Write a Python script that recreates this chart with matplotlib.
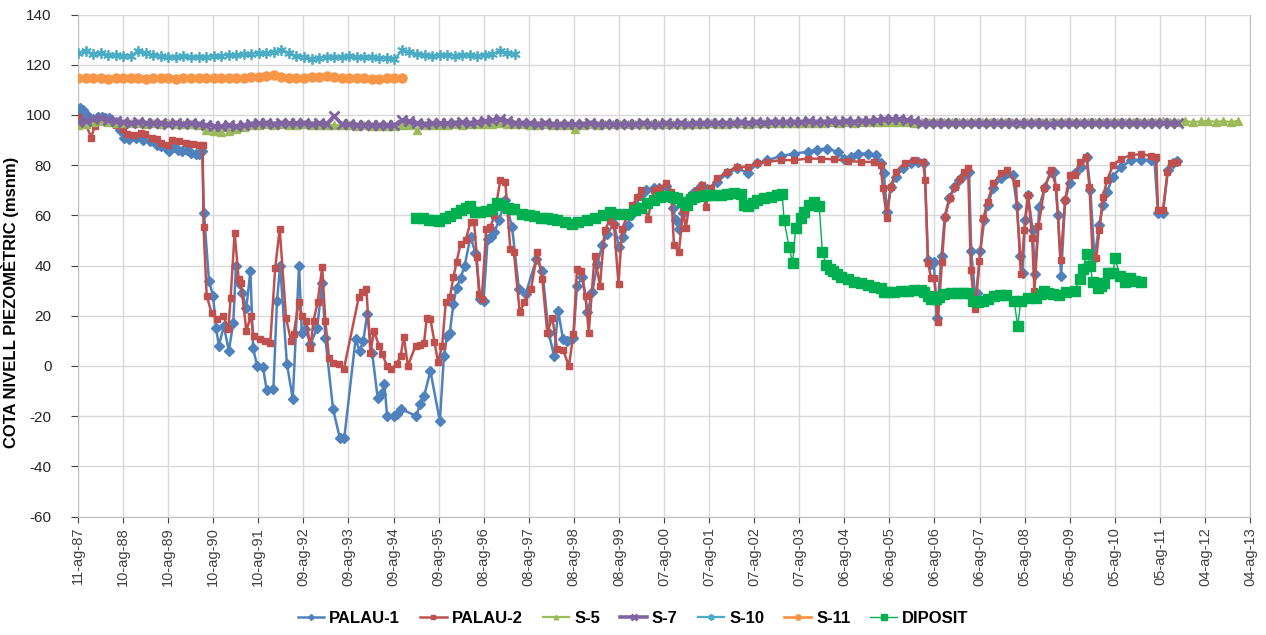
import datetime as dt

import matplotlib
matplotlib.use("Agg")
import matplotlib.pyplot as plt
import pandas as pd

plt.rcParams['font.family'] = ['Liberation Sans', 'DejaVu Sans']
plt.rcParams['axes.unicode_minus'] = False

# PALAU-1 (decimal year, m)
p1_year = [1987.62, 1987.66, 1987.72, 1987.78, 1987.85, 1987.95, 1988.05, 1988.15,
           1988.30, 1988.45, 1988.55, 1988.62, 1988.75, 1988.90, 1989.05, 1989.20,
           1989.35, 1989.45, 1989.55, 1989.62, 1989.72, 1989.82, 1989.92, 1990.02,
           1990.12, 1990.22, 1990.30, 1990.36, 1990.40, 1990.51, 1990.60, 1990.67,
           1990.73, 1990.84, 1990.95, 1991.05, 1991.11, 1991.17, 1991.25, 1991.34,
           1991.43, 1991.49, 1991.58, 1991.71, 1991.79, 1991.94, 1992.02, 1992.09,
           1992.24, 1992.37, 1992.51, 1992.57, 1992.65, 1992.76, 1992.91, 1993.02,
           1993.09, 1993.26, 1993.41, 1993.51, 1993.76, 1993.85, 1993.93, 1994.02,
           1994.13, 1994.25, 1994.33, 1994.40, 1994.46, 1994.61, 1994.68, 1994.76,
           1995.11, 1995.19, 1995.28, 1995.42, 1995.63, 1995.72, 1995.79, 1995.85,
           1995.93, 1996.00, 1996.09, 1996.18, 1996.31, 1996.42, 1996.53, 1996.60,
           1996.69, 1996.76, 1996.84, 1996.94, 1997.08, 1997.23, 1997.38, 1997.53,
           1997.77, 1997.90, 1998.04, 1998.16, 1998.25, 1998.36, 1998.45, 1998.59,
           1998.67, 1998.79, 1998.90, 1999.01, 1999.12, 1999.23, 1999.34, 1999.49,
           1999.60, 1999.70, 1999.79, 1999.86, 1999.97, 2000.08, 2000.19, 2000.38,
           2000.49, 2000.64, 2000.72, 2000.80, 2000.86, 2000.93, 2001.02, 2001.11,
           2001.26, 2001.41, 2001.56, 2001.78, 2002.00, 2002.22, 2002.45, 2002.67,
           2002.89, 2003.19, 2003.48, 2003.78, 2004.00, 2004.22, 2004.45, 2004.60,
           2004.74, 2004.89, 2005.11, 2005.30, 2005.41, 2005.47, 2005.54, 2005.63,
           2005.74, 2005.89, 2006.08, 2006.22, 2006.37, 2006.45, 2006.52, 2006.58,
           2006.64, 2006.75, 2006.82, 2006.92, 2007.03, 2007.14, 2007.25, 2007.36,
           2007.41, 2007.49, 2007.53, 2007.61, 2007.70, 2007.77, 2007.90, 2008.07,
           2008.21, 2008.33, 2008.42, 2008.50, 2008.55, 2008.60, 2008.67, 2008.77,
           2008.82, 2008.92, 2009.04, 2009.18, 2009.25, 2009.33, 2009.40, 2009.49,
           2009.59, 2009.70, 2009.84, 2009.97, 2010.05, 2010.14, 2010.25, 2010.33,
           2010.42, 2010.55, 2010.73, 2010.96, 2011.18, 2011.40, 2011.47, 2011.55,
           2011.66, 2011.77, 2011.88, 2011.98]
p1_val = [102.0, 102.8, 102.0, 100.5, 98.2, 98.4, 99.0, 99.2,
          98.6, 97.2, 94.0, 91.0, 90.5, 91.0, 90.2, 89.6,
          88.0, 87.6, 87.0, 85.6, 87.2, 86.2, 85.6, 86.0,
          85.0, 84.6, 84.4, 85.5, 61.0, 34.0, 28.0, 15.0,
          8.0, 16.0, 6.0, 17.0, 40.0, 33.0, 29.0, 23.0,
          38.0, 7.0, 0.0, -0.5, -9.5, -9.0, 26.0, 40.0,
          0.7, -13.0, 40.0, 13.0, 14.7, 8.7, 15.0, 33.0,
          11.0, -17.0, -28.7, -28.7, 10.7, 6.0, 10.0, 20.7,
          5.0, -12.7, -11.0, -7.3, -20.0, -20.0, -19.0, -17.0,
          -20.0, -15.0, -12.0, -2.0, -22.0, 4.0, 12.0, 13.3,
          24.7, 31.0, 35.0, 40.0, 51.5, 45.0, 26.7, 26.0,
          50.7, 51.5, 53.3, 58.0, 66.0, 55.3, 30.7, 28.7,
          42.7, 38.0, 13.3, 4.0, 22.0, 10.7, 10.0, 11.3,
          32.0, 35.3, 21.3, 29.3, 40.7, 48.0, 52.7, 56.7,
          47.3, 51.3, 56.0, 60.0, 64.0, 68.0, 70.0, 71.0,
          70.7, 71.8, 69.4, 63.0, 58.0, 54.4, 61.0, 66.0,
          69.5, 71.5, 70.5, 73.4, 76.7, 78.7, 77.0, 80.7,
          82.0, 83.6, 84.6, 85.3, 86.2, 86.6, 85.3, 82.6,
          83.3, 84.6, 84.6, 84.0, 80.7, 76.7, 61.5, 71.4,
          75.4, 78.7, 80.7, 81.3, 81.0, 42.3, 40.5, 41.6,
          19.3, 43.7, 59.5, 66.8, 71.4, 74.0, 76.0, 77.4,
          45.7, 29.2, 29.2, 45.7, 58.2, 64.2, 70.8, 74.7,
          76.7, 76.0, 63.8, 43.7, 37.1, 58.2, 68.1, 54.3,
          36.5, 63.5, 71.4, 77.4, 77.4, 60.2, 35.8, 66.1,
          72.7, 76.7, 79.3, 83.3, 70.1, 43.1, 56.3, 64.2,
          69.4, 75.4, 79.3, 82.0, 82.2, 82.0, 82.0, 60.9,
          60.9, 78.0, 80.7, 81.7]

# PALAU-2
p2_year = [1987.60, 1987.68, 1987.78, 1987.90, 1987.98, 1988.05, 1988.20, 1988.35,
           1988.45, 1988.60, 1988.70, 1988.85, 1989.00, 1989.10, 1989.25, 1989.35,
           1989.45, 1989.60, 1989.70, 1989.85, 1990.00, 1990.15, 1990.30, 1990.37,
           1990.39, 1990.46, 1990.57, 1990.68, 1990.83, 1990.94, 1990.99, 1991.08,
           1991.17, 1991.22, 1991.34, 1991.44, 1991.50, 1991.65, 1991.76, 1991.87,
           1991.98, 1992.08, 1992.22, 1992.33, 1992.39, 1992.50, 1992.57, 1992.67,
           1992.76, 1992.83, 1992.92, 1993.02, 1993.09, 1993.17, 1993.26, 1993.39,
           1993.50, 1993.83, 1993.91, 1994.00, 1994.09, 1994.17, 1994.28, 1994.35,
           1994.46, 1994.55, 1994.67, 1994.76, 1994.83, 1994.92, 1995.09, 1995.20,
           1995.28, 1995.34, 1995.42, 1995.51, 1995.59, 1995.68, 1995.76, 1995.85,
           1995.93, 1996.00, 1996.09, 1996.20, 1996.31, 1996.39, 1996.45, 1996.50,
           1996.56, 1996.66, 1996.75, 1996.84, 1996.97, 1997.08, 1997.19, 1997.27,
           1997.40, 1997.50, 1997.65, 1997.79, 1997.90, 1998.01, 1998.12, 1998.23,
           1998.36, 1998.49, 1998.59, 1998.67, 1998.76, 1998.86, 1998.93, 1999.06,
           1999.18, 1999.28, 1999.40, 1999.49, 1999.59, 1999.67, 1999.79, 1999.90,
           2000.01, 2000.08, 2000.24, 2000.38, 2000.52, 2000.65, 2000.76, 2000.82,
           2000.93, 2001.02, 2001.08, 2001.19, 2001.34, 2001.45, 2001.52, 2001.63,
           2001.78, 2002.00, 2002.22, 2002.45, 2002.67, 2002.89, 2003.19, 2003.48,
           2003.78, 2004.08, 2004.37, 2004.67, 2004.97, 2005.26, 2005.40, 2005.45,
           2005.54, 2005.62, 2005.74, 2005.93, 2006.15, 2006.34, 2006.39, 2006.45,
           2006.52, 2006.59, 2006.67, 2006.76, 2006.83, 2006.93, 2007.04, 2007.15,
           2007.25, 2007.34, 2007.40, 2007.49, 2007.59, 2007.68, 2007.77, 2007.90,
           2008.07, 2008.21, 2008.40, 2008.51, 2008.59, 2008.67, 2008.76, 2008.81,
           2008.90, 2009.03, 2009.18, 2009.29, 2009.39, 2009.49, 2009.59, 2009.70,
           2009.83, 2009.96, 2010.03, 2010.10, 2010.18, 2010.25, 2010.33, 2010.42,
           2010.55, 2010.73, 2010.96, 2011.18, 2011.40, 2011.51, 2011.55, 2011.66,
           2011.76, 2011.84, 2011.96]
p2_val = [99.0, 97.5, 96.5, 91.0, 95.5, 97.5, 97.2, 97.0,
          96.0, 94.5, 92.5, 92.0, 93.0, 92.5, 91.0, 90.5,
          89.0, 88.0, 90.0, 89.5, 89.0, 88.5, 88.0, 88.0,
          55.3, 28.0, 21.0, 18.7, 20.0, 14.7, 27.0, 53.0,
          34.7, 33.0, 14.0, 20.0, 12.0, 10.7, 10.0, 9.3,
          39.0, 54.7, 19.3, 10.0, 12.7, 25.3, 20.0, 18.0,
          7.3, 18.0, 25.3, 39.3, 18.0, 3.3, 1.3, 0.7,
          -1.3, 27.3, 29.3, 30.7, 5.3, 14.0, 8.0, 4.7,
          0.0, -1.3, 0.7, 4.0, 11.7, 0.0, 8.0, 8.4,
          9.3, 19.3, 18.7, 9.6, 1.5, 8.0, 25.3, 27.3,
          35.3, 41.3, 48.7, 50.0, 57.3, 57.3, 43.3, 28.7,
          26.7, 54.7, 55.3, 60.0, 74.0, 73.3, 46.7, 45.3,
          21.3, 25.3, 30.7, 45.3, 34.7, 13.3, 19.3, 6.7,
          6.4, 0.0, 12.7, 38.7, 38.0, 28.0, 13.3, 44.0,
          32.0, 54.0, 58.0, 56.0, 32.7, 54.7, 60.0, 64.0,
          67.3, 70.0, 58.7, 70.0, 70.7, 72.7, 69.4, 48.2,
          45.5, 62.0, 54.8, 68.0, 70.0, 72.0, 63.4, 70.7,
          74.7, 77.4, 79.3, 79.3, 80.7, 81.3, 82.0, 82.0,
          82.6, 82.6, 82.3, 81.7, 81.3, 81.3, 80.0, 70.7,
          58.8, 71.4, 77.4, 80.7, 82.0, 81.3, 74.0, 41.0,
          35.0, 35.0, 17.7, 41.6, 59.5, 66.8, 71.4, 74.3,
          77.4, 78.7, 38.4, 22.6, 41.7, 58.9, 65.5, 72.7,
          76.7, 78.0, 72.7, 36.5, 54.3, 68.1, 51.0, 29.9,
          55.6, 70.8, 78.0, 71.4, 42.4, 66.1, 76.0, 76.0,
          81.3, 83.3, 71.4, 43.7, 43.1, 54.3, 67.5, 74.0,
          80.0, 82.6, 84.0, 84.4, 83.6, 83.3, 62.2, 62.2,
          77.4, 80.7, 81.3]

# S-5, S-7, S-10, S-11: regular readings every 61 days from 11-ag-87
s5_val = [96.0, 96.4, 97.0, 97.6, 97.3, 96.8, 96.9, 96.6, 96.8, 96.5, 96.7, 96.4,
          96.6, 96.3, 96.5, 96.2, 96.0, 94.0, 93.5, 93.4, 93.8, 94.5, 95.2, 95.8,
          96.0, 96.2, 96.0, 96.3, 96.1, 96.0, 96.2, 96.0, 96.1, 95.9, 96.0, 95.8,
          95.9, 95.7, 95.8, 95.6, 95.7, 95.5, 95.6, 95.8, 96.0, 94.0, 95.8, 96.0,
          96.1, 96.0, 96.2, 96.1, 96.3, 96.2, 96.4, 96.5, 96.6, 96.4, 96.3, 96.2,
          96.1, 96.0, 96.2, 96.0, 95.9, 96.0, 94.6, 96.0, 96.2, 96.1, 96.3, 96.2,
          96.3, 96.2, 96.4, 96.3, 96.2, 96.4, 96.3, 96.5, 96.4, 96.3, 96.5, 96.4,
          96.6, 96.5, 96.4, 96.6, 96.7, 96.5, 96.6, 96.8, 96.7, 96.6, 96.8, 96.7,
          96.8, 96.9, 96.7, 96.8, 97.0, 96.9, 97.0, 96.9, 97.1, 97.0, 97.2, 97.1,
          97.3, 97.2, 97.0, 96.9, 97.1, 97.0, 97.2, 97.0, 97.3, 97.1, 97.0, 97.2,
          97.1, 97.3, 97.0, 97.2, 97.1, 96.9, 97.2, 97.0, 97.3, 97.1, 97.2, 97.0,
          97.3, 97.1, 97.0, 97.2, 97.1, 97.3, 97.0, 97.2, 97.1, 97.3, 97.0, 97.2,
          97.4, 97.1, 97.3, 97.5, 97.2, 97.4, 97.6, 97.3, 97.5, 97.2, 97.6]
s7_val = [97.0, 97.5, 98.2, 98.6, 98.0, 97.4, 97.0, 96.8, 97.2, 96.9, 96.6, 96.8,
          96.5, 96.7, 96.4, 96.6, 96.3, 95.9, 95.6, 95.4, 95.8, 95.6, 96.0, 96.4,
          96.6, 96.8, 96.5, 96.9, 96.7, 96.6, 96.8, 96.5, 96.7, 96.4, 99.6, 96.3,
          96.2, 96.0, 96.1, 95.9, 96.0, 95.8, 96.0, 97.8, 97.4, 96.6, 96.4, 96.6,
          96.8, 96.6, 96.9, 97.0, 96.8, 97.1, 97.4, 98.0, 98.3, 97.5, 96.9, 96.7,
          96.6, 96.5, 96.7, 96.4, 96.5, 96.3, 96.5, 96.4, 96.6, 96.3, 96.5, 96.4,
          96.3, 96.5, 96.4, 96.6, 96.5, 96.4, 96.6, 96.5, 96.7, 96.5, 96.6, 96.8,
          96.7, 96.9, 96.8, 96.7, 97.0, 96.8, 97.0, 96.9, 97.1, 97.2, 97.0, 97.3,
          97.2, 97.4, 97.1, 97.3, 97.5, 97.2, 97.4, 97.3, 97.6, 97.5, 97.8, 98.2,
          98.5, 98.3, 98.0, 97.6, 96.9, 96.7, 96.8, 96.6, 96.9, 96.7, 96.8, 96.6,
          96.9, 96.7, 96.6, 96.8, 96.7, 96.9, 96.6, 96.8, 96.7, 96.5, 96.8, 96.6,
          96.9, 96.7, 96.6, 96.8, 96.7, 96.6, 96.8, 96.9, 96.7, 96.6, 96.8, 96.7,
          96.9, 96.6, 96.7]
s10_val = [124.8, 125.4, 124.3, 124.6, 124.0, 123.8, 123.5, 123.6, 125.5, 124.6,
           124.0, 123.4, 123.2, 123.1, 123.3, 123.0, 123.2, 123.1, 123.4, 123.6,
           124.0, 123.8, 124.1, 124.4, 124.8, 124.6, 125.2, 126.0, 124.5, 123.6,
           123.0, 122.4, 122.8, 123.1, 123.2, 123.0, 123.3, 123.1, 123.0, 122.9,
           122.6, 122.8, 122.1, 125.8, 124.9, 124.1, 123.8, 123.6, 123.7, 123.9,
           123.6, 123.8, 123.7, 123.5, 123.8, 124.2, 125.4, 124.6, 124.3]
s11_val = [114.8, 114.6, 114.9, 114.7, 114.5, 114.8, 114.6, 114.7, 114.9, 114.5,
           114.6, 114.8, 114.7, 114.5, 114.6, 114.8, 114.7, 114.6, 114.9, 114.7,
           114.8, 114.6, 114.9, 115.0, 115.2, 115.6, 115.9, 115.3, 114.8, 114.6,
           114.9, 115.1, 115.3, 115.7, 115.2, 114.7, 114.6, 114.8, 114.6, 114.5,
           114.4, 114.6, 114.7, 114.9]

# DIPOSIT
dip_year = [1995.11, 1995.25, 1995.38, 1995.50, 1995.62, 1995.75, 1995.85, 1995.98,
            1996.10, 1996.20, 1996.30, 1996.42, 1996.53, 1996.65, 1996.78, 1996.90,
            1997.02, 1997.14, 1997.27, 1997.46, 1997.60, 1997.72, 1997.86, 1998.00,
            1998.12, 1998.23, 1998.40, 1998.56, 1998.70, 1998.90, 1999.08, 1999.25,
            1999.41, 1999.60, 1999.79, 1999.95, 2000.08, 2000.22, 2000.37, 2000.52,
            2000.67, 2000.80, 2000.89, 2001.00, 2001.11, 2001.19, 2001.26, 2001.41,
            2001.56, 2001.70, 2001.85, 2002.00, 2002.15, 2002.30, 2002.37, 2002.45,
            2002.56, 2002.67, 2002.82, 2002.97, 2003.10, 2003.22, 2003.26, 2003.37,
            2003.45, 2003.52, 2003.63, 2003.71, 2003.82, 2003.93, 2004.04, 2004.11,
            2004.19, 2004.27, 2004.34, 2004.43, 2004.52, 2004.67, 2004.82, 2004.97,
            2005.11, 2005.26, 2005.41, 2005.48, 2005.56, 2005.70, 2005.85, 2006.00,
            2006.15, 2006.29, 2006.37, 2006.44, 2006.52, 2006.62, 2006.70, 2006.81,
            2006.95, 2007.10, 2007.22, 2007.33, 2007.44, 2007.55, 2007.66, 2007.77,
            2007.92, 2008.05, 2008.18, 2008.36, 2008.44, 2008.51, 2008.66, 2008.84,
            2008.95, 2009.03, 2009.12, 2009.21, 2009.36, 2009.51, 2009.70, 2009.81,
            2009.88, 2009.97, 2010.05, 2010.10, 2010.21, 2010.29, 2010.36, 2010.45,
            2010.55, 2010.60, 2010.70, 2010.81, 2010.92, 2011.03, 2011.18]
dip_val = [59.0, 58.8, 58.3, 58.0, 57.6, 58.8, 59.7, 60.8,
           62.0, 62.8, 63.6, 61.5, 61.3, 61.8, 62.5, 65.0,
           64.0, 63.0, 62.7, 60.5, 60.3, 59.8, 59.0, 58.8,
           58.5, 58.2, 57.5, 56.7, 57.4, 58.0, 59.0, 60.0,
           61.3, 60.5, 60.7, 62.0, 63.0, 65.0, 66.2, 67.2,
           67.8, 67.2, 66.8, 65.5, 64.2, 66.5, 67.4, 67.8,
           68.0, 68.2, 68.0, 68.6, 69.0, 68.7, 64.1, 63.7,
           65.0, 66.1, 66.8, 67.4, 68.0, 68.5, 58.1, 47.5,
           41.2, 55.1, 58.8, 61.5, 64.1, 65.4, 63.7, 45.6,
           40.4, 38.8, 37.7, 36.6, 35.6, 34.6, 33.6, 32.9,
           32.3, 31.6, 31.0, 29.6, 29.3, 29.5, 29.7, 30.0,
           30.3, 30.4, 29.6, 27.9, 26.5, 26.6, 27.5, 28.5,
           28.9, 29.2, 29.2, 29.0, 25.9, 25.3, 26.0, 26.6,
           27.9, 28.1, 28.2, 25.9, 16.0, 25.9, 27.2, 27.2,
           28.5, 29.9, 29.2, 28.5, 28.2, 29.5, 29.9, 34.5,
           38.7, 44.8, 39.8, 33.4, 31.2, 31.8, 33.2, 37.1,
           37.1, 43.1, 35.8, 33.4, 35.1, 33.8, 33.4]


def to_date(y):
    yr = int(y)
    return dt.datetime(yr, 1, 1) + dt.timedelta(days=(y - yr) * 365.25)


def regular(vals):
    return pd.date_range('1987-08-11', periods=len(vals), freq='61D')


fig = plt.figure(figsize=(12.66, 6.35), dpi=100)
ax = fig.add_axes([0.0616, 0.1865, 0.9258, 0.7906])

ax.plot([to_date(y) for y in p1_year], p1_val, '-D', color='#4F81BD', lw=1.8,
        ms=5, label='PALAU-1', zorder=3)
ax.plot([to_date(y) for y in p2_year], p2_val, '-s', color='#C0504D', lw=1.8,
        ms=3.8, label='PALAU-2', zorder=3)
ax.plot(regular(s5_val), s5_val, '-^', color='#9BBB59', lw=1.6, ms=5.5,
        label='S-5', zorder=3)
ax.plot(regular(s7_val), s7_val, '-x', color='#8064A2', lw=2.6, ms=7, mew=2,
        label='S-7', zorder=3)
ax.plot(regular(s10_val), s10_val, '-', marker=(6, 2, 0), color='#4BACC6',
        lw=1.6, ms=7.5, mew=1.3, label='S-10', zorder=3)
ax.plot(regular(s11_val), s11_val, '-o', color='#F79646', lw=2, ms=6.5,
        label='S-11', zorder=3)
ax.plot([to_date(y) for y in dip_year], dip_val, '-s', color='#00B050', lw=1,
        ms=7.5, label='DIPOSIT', zorder=3)

# x axis: one tick every 365 days from 11-ag-87
t0 = dt.datetime(1987, 8, 11)
ticks = [t0 + dt.timedelta(days=365 * k) for k in range(27)]
ax.set_xlim(ticks[0], ticks[-1])
ax.set_xticks(ticks)
ax.set_xticklabels([t.strftime('%d-ag-%y') for t in ticks], rotation=90,
                   fontsize=10.5, color='#404040')

ax.set_ylim(-60, 140)
ax.set_yticks(range(-60, 141, 20))
ax.tick_params(axis='y', labelsize=11, colors='#404040', length=5, pad=14)
ax.tick_params(axis='x', length=4, colors='#404040')
for lab in ax.get_yticklabels():
    lab.set_color('#262626')
ax.grid(True, color='#D9D9D9', lw=1)
ax.set_axisbelow(True)
for side in ax.spines:
    ax.spines[side].set_color('#BFBFBF')
ax.spines['top'].set_visible(False)

ax.set_ylabel('COTA NIVELL PIEZOMÈTRIC (msnm)', fontsize=12, fontweight='bold')
ax.yaxis.set_label_coords(-0.05, 0.426)

fig.legend(loc='center', bbox_to_anchor=(0.5, 0.026), ncol=7, frameon=False,
           prop={'weight': 'bold', 'size': 12}, handlelength=1.6,
           columnspacing=1.2, handletextpad=0.3, markerscale=0.6)

fig.savefig('out.png', dpi=100)
